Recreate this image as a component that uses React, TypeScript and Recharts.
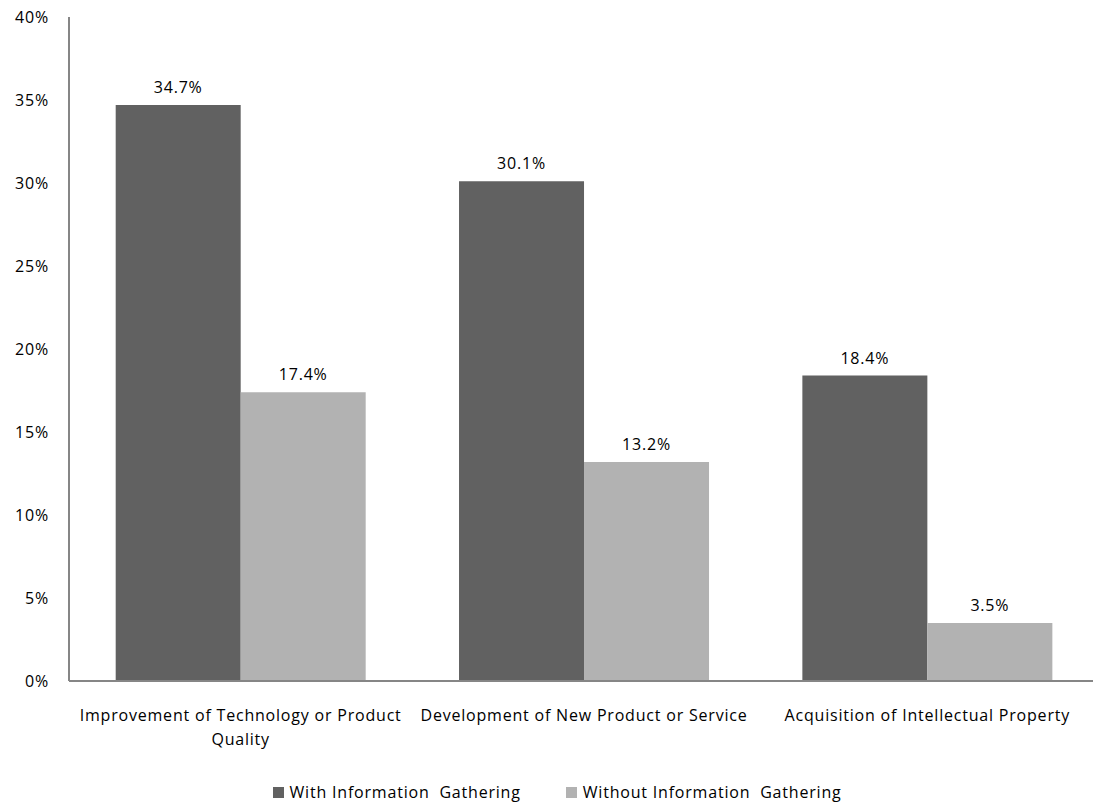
import React from "react";
import { BarChart, Bar, XAxis, YAxis, LabelList, Legend } from "recharts";

const categories = [
  "Improvement of Technology or Product Quality",
  "Development of New Product or Service",
  "Acquisition of Intellectual Property",
];
const categoryLines = [
  ["Improvement of Technology or Product", "Quality"],
  ["Development of New Product or Service"],
  ["Acquisition of Intellectual Property"],
];
const withInfo = [34.7, 30.1, 18.4];
const withoutInfo = [17.4, 13.2, 3.5];
const yTicks = [0, 5, 10, 15, 20, 25, 30, 35, 40];
const seriesNames = ["With Information  Gathering", "Without Information  Gathering"];
const seriesColors = ["#616161", "#b2b2b2"];

const data = categories.map((c, i) => ({
  name: c,
  with: withInfo[i],
  without: withoutInfo[i],
}));

const FONT = "'Open Sans', sans-serif";
const FS = 16;
const LS = 0.8;

const XTick = (props: any) => {
  const { x, y, index } = props;
  const lines = categoryLines[index] || [];
  return (
    <g>
      {lines.map((l: string, i: number) => (
        <text
          key={i}
          x={x}
          y={y + 28 + i * 24}
          textAnchor="middle"
          fontFamily={FONT}
          fontSize={FS}
          letterSpacing={LS}
          fill="#000"
          dominantBaseline="middle"
        >
          {l}
        </text>
      ))}
    </g>
  );
};

const YTick = (props: any) => {
  const { x, y, payload } = props;
  return (
    <text
      x={x}
      y={y + 2}
      textAnchor="end"
      fontFamily={FONT}
      fontSize={FS}
      letterSpacing={LS}
      fill="#000"
      dominantBaseline="middle"
    >
      {`${payload.value}%`}
    </text>
  );
};

const LegendContent = () => (
  <div
    style={{
      display: "flex",
      justifyContent: "center",
      alignItems: "center",
      fontFamily: FONT,
      fontSize: FS,
      letterSpacing: LS,
      color: "#000",
      width: 1093,
      paddingLeft: 21,
      boxSizing: "border-box",
    }}
  >
    {seriesNames.map((n, i) => (
      <div key={i} style={{ display: "flex", alignItems: "center", marginRight: i === 0 ? 45 : 0 }}>
        <span
          style={{
            display: "inline-block",
            width: 11,
            height: 11,
            background: seriesColors[i],
            marginRight: 6,
          }}
        />
        <span style={{ whiteSpace: "pre" }}>{n}</span>
      </div>
    ))}
  </div>
);

const fmt = (v: number) => `${v.toFixed(1)}%`;

export default function App() {
  return (
    <div
      style={{
        position: "absolute",
        left: 0,
        top: 0,
        width: 1093,
        height: 806,
        overflow: "hidden",
        background: "#fff",
      }}
    >
      <BarChart
        width={1100}
        height={806}
        data={data}
        margin={{ top: 17, right: 1, bottom: 0, left: 0 }}
        barCategoryGap="13.6%"
        barGap={0}
      >
        <XAxis
          dataKey="name"
          axisLine={{ stroke: "#868686", strokeWidth: 2 }}
          tickLine={false}
          tick={<XTick />}
          height={100}
          interval={0}
        />
        <YAxis
          domain={[0, 40]}
          ticks={yTicks}
          axisLine={{ stroke: "#868686", strokeWidth: 2 }}
          tickLine={false}
          tickSize={0}
          tickMargin={20}
          width={69}
          tick={<YTick />}
        />
        <Legend verticalAlign="bottom" height={25} content={<LegendContent />} wrapperStyle={{ left: 0, width: 1093 }} />
        <Bar dataKey="with" name={seriesNames[0]} fill={seriesColors[0]} isAnimationActive={false}>
          <LabelList
            dataKey="with"
            position="top"
            offset={12}
            formatter={fmt}
            style={{ fontFamily: FONT, fontSize: FS, letterSpacing: LS, fill: "#000" }}
          />
        </Bar>
        <Bar dataKey="without" name={seriesNames[1]} fill={seriesColors[1]} isAnimationActive={false}>
          <LabelList
            dataKey="without"
            position="top"
            offset={12}
            formatter={fmt}
            style={{ fontFamily: FONT, fontSize: FS, letterSpacing: LS, fill: "#000" }}
          />
        </Bar>
      </BarChart>
    </div>
  );
}
